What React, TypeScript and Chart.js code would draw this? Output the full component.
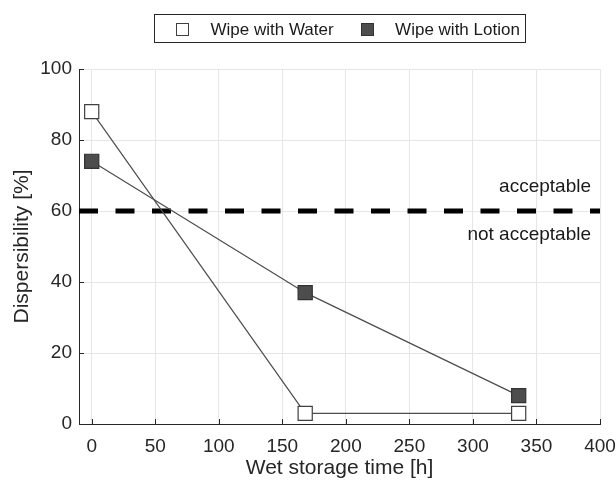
import { useEffect, useRef } from 'react';
import { Chart, registerables } from 'chart.js';

Chart.register(...registerables);

// ---- data ----
const storageTimes = [0, 168, 336];
const waterDispersibility = [88, 3, 3];
const lotionDispersibility = [74, 37, 8];
const thresholdX = [-10, 400];
const thresholdY = [60, 60];
const xTicks = [0, 50, 100, 150, 200, 250, 300, 350, 400];
const yTicks = [0, 20, 40, 60, 80, 100];
const seriesLabels = ['Wipe with Water', 'Wipe with Lotion'];
const zoneLabels = ['acceptable', 'not acceptable'];
const xTitle = 'Wet storage time [h]';
const yTitle = 'Dispersibility [%]';

const FONT = '"Liberation Sans", Arial, Helvetica, sans-serif';
const AXIS_COLOR = '#262626';
const GRID_COLOR = '#e6e6e6';

const innerTicksPlugin = {
  id: 'innerTicks',
  beforeDatasetsDraw(chart: any) {
    const { ctx, chartArea, scales } = chart;
    const x = scales.x;
    const y = scales.y;
    ctx.save();
    ctx.strokeStyle = AXIS_COLOR;
    ctx.lineWidth = 1;
    ctx.beginPath();
    xTicks.forEach((v) => {
      const px = Math.round(x.getPixelForValue(v)) + 0.5;
      ctx.moveTo(px, chartArea.bottom);
      ctx.lineTo(px, chartArea.bottom - 5);
    });
    yTicks.forEach((v) => {
      const py = Math.round(y.getPixelForValue(v)) + 0.5;
      ctx.moveTo(chartArea.left, py);
      ctx.lineTo(chartArea.left + 5, py);
    });
    ctx.stroke();
    ctx.restore();
  },
};

const zoneLabelPlugin = {
  id: 'zoneLabels',
  afterDatasetsDraw(chart: any) {
    const { ctx, scales } = chart;
    const px = scales.x.getPixelForValue(400) - 9;
    const py = scales.y.getPixelForValue(60);
    ctx.save();
    ctx.font = `19px ${FONT}`;
    ctx.fillStyle = '#1a1a1a';
    ctx.textAlign = 'right';
    ctx.textBaseline = 'middle';
    ctx.fillText(zoneLabels[0], px, py - 24);
    ctx.fillText(zoneLabels[1], px, py + 24);
    ctx.restore();
  },
};

const boxLegendPlugin = {
  id: 'boxLegend',
  afterDraw(chart: any) {
    const { ctx, chartArea } = chart;
    const items = chart.data.datasets.slice(0, 2);
    ctx.save();
    ctx.font = `17px ${FONT}`;
    const widths = items.map((d: any) => ctx.measureText(d.label).width);
    const padL = 22, sq = 13, gapT = 21.5, gapItem = 27, padR = 5;
    const total = padL + sq + gapT + widths[0] + gapItem + sq + gapT + widths[1] + padR;
    const x0 = Math.round((chartArea.left + chartArea.right) / 2 - total / 2);
    const top = 14, bottom = 42;
    const cy = 29;
    ctx.fillStyle = '#ffffff';
    ctx.fillRect(x0, top, total, bottom - top);
    ctx.strokeStyle = AXIS_COLOR;
    ctx.lineWidth = 1;
    ctx.strokeRect(x0 + 0.5, top + 0.5, Math.round(total), bottom - top);
    let x = x0 + padL;
    items.forEach((d: any, i: number) => {
      const sx = Math.round(x);
      const sy = Math.round(cy - sq / 2);
      ctx.fillStyle = d.pointBackgroundColor;
      ctx.fillRect(sx, sy, sq, sq);
      ctx.strokeStyle = d.pointBorderColor;
      ctx.strokeRect(sx + 0.5, sy + 0.5, sq - 1, sq - 1);
      x += sq + gapT;
      ctx.fillStyle = '#1a1a1a';
      ctx.textAlign = 'left';
      ctx.textBaseline = 'middle';
      ctx.fillText(d.label, x, cy + 1);
      x += widths[i] + gapItem;
    });
    ctx.restore();
  },
};

export default function App() {
  const canvasRef = useRef<HTMLCanvasElement | null>(null);

  useEffect(() => {
    document.body.style.margin = '0';
    const canvas = canvasRef.current;
    if (!canvas) return;
    const chart = new Chart(canvas, {
      type: 'scatter',
      data: {
        datasets: [
          {
            label: seriesLabels[0],
            data: storageTimes.map((t, i) => ({ x: t, y: waterDispersibility[i] })),
            showLine: true,
            borderColor: '#4d4d4d',
            borderWidth: 1.2,
            pointStyle: 'rect',
            pointRadius: 10,
            pointBackgroundColor: '#ffffff',
            pointBorderColor: '#404040',
            pointBorderWidth: 1.2,
          },
          {
            label: seriesLabels[1],
            data: storageTimes.map((t, i) => ({ x: t, y: lotionDispersibility[i] })),
            showLine: true,
            borderColor: '#4d4d4d',
            borderWidth: 1.2,
            pointStyle: 'rect',
            pointRadius: 10,
            pointBackgroundColor: '#4d4d4d',
            pointBorderColor: '#333333',
            pointBorderWidth: 1.2,
          },
          {
            label: 'threshold',
            data: thresholdX.map((t, i) => ({ x: t, y: thresholdY[i] })),
            showLine: true,
            borderColor: '#000000',
            borderWidth: 5,
            borderDash: [19, 17.5],
            pointRadius: 0,
          },
        ],
      },
      options: {
        animation: false,
        responsive: false,
        maintainAspectRatio: false,
        layout: { padding: { top: 69, right: 0, left: 0, bottom: 0 } },
        plugins: {
          legend: { display: false },
          tooltip: { enabled: false },
        },
        scales: {
          x: {
            type: 'linear',
            min: -10,
            max: 400,
            afterBuildTicks: (scale: any) => {
              scale.ticks = xTicks.map((v) => ({ value: v }));
            },
            afterFit: (scale: any) => {
              scale.height = 59;
              scale.paddingRight = 16;
            },
            grid: { color: GRID_COLOR, lineWidth: 1, drawTicks: false },
            border: { display: true, color: AXIS_COLOR, width: 1 },
            ticks: {
              color: AXIS_COLOR,
              font: { family: FONT, size: 19 },
              padding: 11,
              maxRotation: 0,
              autoSkip: false,
            },
            title: {
              display: true,
              text: xTitle,
              color: AXIS_COLOR,
              font: { family: FONT, size: 21 },
              padding: { top: 0, bottom: 2 },
            },
          },
          y: {
            type: 'linear',
            min: 0,
            max: 100,
            afterBuildTicks: (scale: any) => {
              scale.ticks = yTicks.map((v) => ({ value: v }));
            },
            afterFit: (scale: any) => {
              scale.width = 79;
            },
            grid: { color: GRID_COLOR, lineWidth: 1, drawTicks: false },
            border: { display: true, color: AXIS_COLOR, width: 1 },
            ticks: {
              color: AXIS_COLOR,
              font: { family: FONT, size: 19 },
              padding: 7,
              autoSkip: false,
            },
            title: {
              display: true,
              text: yTitle,
              color: AXIS_COLOR,
              font: { family: FONT, size: 21 },
              padding: { top: 10, bottom: 0 },
            },
          },
        },
      },
      plugins: [innerTicksPlugin, zoneLabelPlugin, boxLegendPlugin],
    });
    return () => chart.destroy();
  }, []);

  return (
    <div style={{ width: 616, height: 483 }}>
      <canvas ref={canvasRef} width={616} height={483} style={{ display: 'block' }} />
    </div>
  );
}
